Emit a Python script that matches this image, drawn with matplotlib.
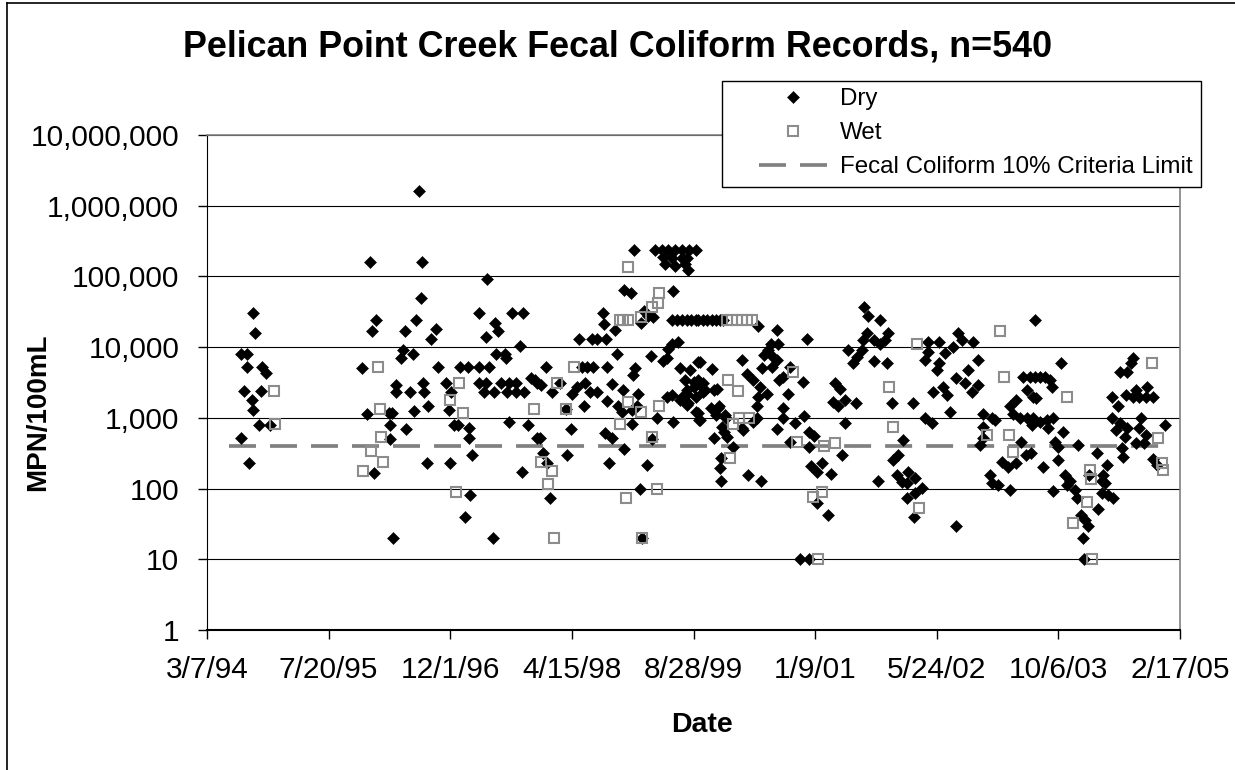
import matplotlib
matplotlib.use("Agg")
import matplotlib.pyplot as plt
from matplotlib.lines import Line2D
from matplotlib.patches import Rectangle
from matplotlib.ticker import NullLocator
import numpy as np

plt.rcParams['font.family'] = ['Liberation Sans', 'DejaVu Sans']

# Dry-weather samples: (date, MPN/100mL)
dry_samples = [
    ("1994-07-25", 8000), ("1994-07-25", 520), ("1994-08-05", 2400), ("1994-08-17", 8000),
    ("1994-08-20", 5200), ("1994-08-25", 230), ("1994-09-08", 1800), ("1994-09-12", 30000),
    ("1994-09-12", 1300), ("1994-09-20", 16000), ("1994-10-08", 800), ("1994-10-13", 2400),
    ("1994-10-21", 5200), ("1994-11-04", 4300), ("1994-11-19", 800),
    ("1995-12-04", 5000), ("1995-12-24", 1150), ("1996-01-05", 160000), ("1996-01-13", 17000),
    ("1996-01-21", 165), ("1996-01-29", 24000), ("1996-03-26", 1170), ("1996-03-30", 800),
    ("1996-03-30", 500), ("1996-04-07", 1170), ("1996-04-11", 20), ("1996-04-20", 2300),
    ("1996-04-24", 2900), ("1996-05-14", 7000), ("1996-05-22", 9000), ("1996-05-31", 17000),
    ("1996-06-04", 700), ("1996-06-20", 2300), ("1996-06-29", 8000), ("1996-07-07", 1250),
    ("1996-07-15", 24000), ("1996-07-24", 1600000), ("1996-08-01", 50000), ("1996-08-05", 160000),
    ("1996-08-13", 3100), ("1996-08-17", 2300), ("1996-08-26", 230), ("1996-08-30", 1450),
    ("1996-09-11", 13000), ("1996-10-04", 18000), ("1996-10-11", 5200), ("1996-11-14", 3100),
    ("1996-11-24", 1300), ("1996-12-01", 230), ("1996-12-05", 2300), ("1996-12-17", 800),
    ("1997-01-01", 800), ("1997-01-09", 5200), ("1997-02-01", 40), ("1997-02-10", 5200),
    ("1997-02-15", 730), ("1997-02-15", 520), ("1997-02-22", 82), ("1997-03-02", 300),
    ("1997-03-28", 30000), ("1997-03-28", 3100), ("1997-03-31", 5200), ("1997-04-17", 2300),
    ("1997-04-25", 14000), ("1997-04-29", 3100), ("1997-05-03", 92000), ("1997-05-11", 5200),
    ("1997-05-27", 20), ("1997-05-31", 2300), ("1997-06-02", 22000), ("1997-06-09", 8000),
    ("1997-06-17", 17000), ("1997-06-29", 3100), ("1997-07-13", 8000), ("1997-07-20", 7000),
    ("1997-07-24", 2300), ("1997-08-01", 3100), ("1997-08-01", 880), ("1997-08-11", 30000),
    ("1997-08-29", 3100), ("1997-08-29", 2300), ("1997-09-14", 10500), ("1997-09-22", 170),
    ("1997-09-26", 30000), ("1997-09-30", 2300), ("1997-10-18", 800), ("1997-10-30", 3700),
    ("1997-11-16", 3400), ("1997-11-24", 3100), ("1997-11-24", 520), ("1997-12-03", 520),
    ("1997-12-11", 2900), ("1997-12-19", 320), ("1997-12-29", 5200),
    ("1998-01-01", 230), ("1998-01-14", 74), ("1998-01-22", 2300), ("1998-02-24", 3100),
    ("1998-03-20", 1330), ("1998-03-28", 300), ("1998-04-13", 700), ("1998-04-17", 2200),
    ("1998-05-08", 2700), ("1998-05-15", 13000), ("1998-05-28", 5200), ("1998-06-02", 1450),
    ("1998-06-06", 3100), ("1998-06-18", 5200), ("1998-06-27", 2300), ("1998-07-08", 13000),
    ("1998-07-12", 5200), ("1998-07-26", 2300), ("1998-07-29", 13000), ("1998-08-19", 30000),
    ("1998-08-27", 21000), ("1998-08-31", 620), ("1998-09-01", 13000), ("1998-09-08", 5200),
    ("1998-09-08", 1750), ("1998-09-16", 230), ("1998-09-25", 3000), ("1998-09-29", 520),
    ("1998-10-10", 17500), ("1998-10-18", 8000), ("1998-10-22", 1450), ("1998-11-07", 1200),
    ("1998-11-11", 2500), ("1998-11-15", 64000), ("1998-11-15", 360), ("1998-12-14", 58000),
    ("1998-12-18", 1300), ("1998-12-18", 820), ("1998-12-22", 4000), ("1998-12-28", 240000),
    ("1998-12-30", 5000),
    ("1999-01-07", 1450), ("1999-01-11", 2200), ("1999-01-19", 99), ("1999-01-23", 22000),
    ("1999-01-27", 20), ("1999-02-05", 32000), ("1999-02-17", 215), ("1999-02-21", 28000),
    ("1999-03-05", 7500), ("1999-03-09", 500), ("1999-03-13", 27000), ("1999-03-21", 240000),
    ("1999-03-30", 1000), ("1999-04-20", 240000), ("1999-04-24", 190000), ("1999-04-24", 6300),
    ("1999-05-03", 150000), ("1999-05-11", 7000), ("1999-05-11", 2000), ("1999-05-15", 240000),
    ("1999-05-15", 9500), ("1999-06-01", 180000), ("1999-06-01", 11000), ("1999-06-01", 2100),
    ("1999-06-01", 24000), ("1999-06-05", 62000), ("1999-06-05", 880), ("1999-06-13", 240000),
    ("1999-06-13", 140000), ("1999-06-22", 24000), ("1999-06-26", 12000), ("1999-07-03", 5000),
    ("1999-07-03", 1800), ("1999-07-13", 240000), ("1999-07-13", 180000), ("1999-07-13", 24000),
    ("1999-07-13", 2000), ("1999-07-24", 3400), ("1999-07-25", 150000), ("1999-08-03", 180000),
    ("1999-08-03", 24000), ("1999-08-03", 2500), ("1999-08-03", 2200), ("1999-08-03", 1500),
    ("1999-08-07", 125000), ("1999-08-07", 1600), ("1999-08-11", 240000), ("1999-08-15", 4700),
    ("1999-08-19", 24000), ("1999-08-28", 2700), ("1999-08-28", 3200), ("1999-09-06", 240000),
    ("1999-09-06", 24000), ("1999-09-06", 2000), ("1999-09-06", 1200), ("1999-09-14", 1170),
    ("1999-09-17", 24000), ("1999-09-17", 6200), ("1999-09-17", 3400), ("1999-09-21", 920),
    ("1999-09-25", 2900), ("1999-09-25", 6200), ("1999-09-25", 930), ("1999-10-04", 3100),
    ("1999-10-08", 24000), ("1999-10-08", 2300), ("1999-10-16", 2500), ("1999-10-24", 24000),
    ("1999-11-06", 1400), ("1999-11-10", 24000), ("1999-11-10", 4900), ("1999-11-19", 2500),
    ("1999-11-19", 520), ("1999-11-27", 24000), ("1999-11-27", 1100), ("1999-12-01", 2600),
    ("1999-12-05", 1400), ("1999-12-09", 1450), ("1999-12-13", 24000), ("1999-12-13", 195),
    ("1999-12-17", 130), ("1999-12-21", 270), ("1999-12-25", 750), ("1999-12-29", 24000),
    ("1999-12-30", 630),
    ("2000-01-03", 1100), ("2000-01-08", 1000), ("2000-01-11", 540), ("2000-02-05", 390),
    ("2000-03-13", 720), ("2000-03-13", 6600), ("2000-03-17", 680), ("2000-04-03", 4200),
    ("2000-04-08", 155), ("2000-04-28", 3400), ("2000-04-28", 880), ("2000-05-14", 1470),
    ("2000-05-14", 1000), ("2000-05-19", 2000), ("2000-05-21", 20000), ("2000-05-27", 2700),
    ("2000-05-31", 130), ("2000-06-05", 5000), ("2000-06-13", 7700), ("2000-06-25", 2200),
    ("2000-07-01", 9000), ("2000-07-13", 11000), ("2000-07-16", 5200), ("2000-07-20", 7200),
    ("2000-08-04", 17500), ("2000-08-04", 6600), ("2000-08-07", 700), ("2000-08-11", 11000),
    ("2000-08-15", 3400), ("2000-08-28", 3800), ("2000-08-28", 1400), ("2000-08-28", 1000),
    ("2000-09-18", 2200), ("2000-09-26", 5200), ("2000-09-26", 460), ("2000-10-19", 850),
    ("2000-11-09", 10), ("2000-11-21", 3200), ("2000-11-25", 1050), ("2000-12-08", 13000),
    ("2000-12-13", 630), ("2000-12-13", 390), ("2000-12-13", 10), ("2000-12-21", 210),
    ("2001-01-04", 560), ("2001-01-16", 170), ("2001-01-16", 63), ("2001-02-06", 230),
    ("2001-03-03", 42), ("2001-03-15", 160), ("2001-03-23", 1700), ("2001-03-31", 3100),
    ("2001-04-12", 1450), ("2001-04-21", 2600), ("2001-04-29", 300), ("2001-05-12", 1800),
    ("2001-05-12", 850), ("2001-05-24", 9000), ("2001-06-14", 6000), ("2001-06-26", 1600),
    ("2001-07-01", 7300), ("2001-07-22", 9000), ("2001-07-26", 12500), ("2001-07-28", 37000),
    ("2001-08-12", 16000), ("2001-08-16", 28000), ("2001-09-10", 12500), ("2001-09-10", 6300),
    ("2001-09-23", 130), ("2001-10-01", 24000), ("2001-10-01", 11000), ("2001-10-22", 12500),
    ("2001-10-30", 6000), ("2001-11-03", 16000), ("2001-11-20", 1600), ("2001-11-24", 250),
    ("2001-12-10", 155), ("2001-12-14", 300), ("2001-12-31", 125),
    ("2002-01-04", 490), ("2002-01-21", 120), ("2002-01-21", 74), ("2002-01-25", 170),
    ("2002-02-15", 1600), ("2002-02-19", 40), ("2002-02-23", 140), ("2002-02-23", 87),
    ("2002-03-24", 102), ("2002-04-05", 6600), ("2002-04-05", 1000), ("2002-04-17", 12000),
    ("2002-04-17", 8500), ("2002-05-03", 850), ("2002-05-08", 2300), ("2002-05-25", 4700),
    ("2002-06-02", 12000), ("2002-06-02", 6000), ("2002-06-19", 2700), ("2002-06-27", 8300),
    ("2002-07-05", 2100), ("2002-07-17", 1200), ("2002-07-29", 10000), ("2002-08-11", 3700),
    ("2002-08-11", 30), ("2002-08-19", 16000), ("2002-09-04", 12500), ("2002-09-17", 3100),
    ("2002-09-29", 4700), ("2002-10-16", 2300), ("2002-10-20", 12000), ("2002-11-10", 6600),
    ("2002-11-10", 2900), ("2002-11-18", 410), ("2002-11-30", 1150), ("2002-11-30", 750),
    ("2002-11-30", 520), ("2002-12-28", 155),
    ("2003-01-05", 1000), ("2003-01-05", 120), ("2003-01-17", 930), ("2003-01-30", 112),
    ("2003-02-15", 240), ("2003-03-12", 200), ("2003-03-20", 95), ("2003-03-21", 1450),
    ("2003-04-02", 1150), ("2003-04-15", 1800), ("2003-04-15", 230), ("2003-05-02", 1000),
    ("2003-05-07", 460), ("2003-05-15", 3800), ("2003-05-24", 300), ("2003-05-28", 2500),
    ("2003-05-28", 1000), ("2003-06-12", 3800), ("2003-06-14", 320), ("2003-06-18", 800),
    ("2003-06-22", 2000), ("2003-06-22", 1000), ("2003-07-01", 24000), ("2003-07-01", 3800),
    ("2003-07-05", 1900), ("2003-07-21", 3800), ("2003-07-21", 880), ("2003-08-02", 200),
    ("2003-08-11", 3800), ("2003-08-19", 930), ("2003-08-23", 720), ("2003-09-01", 3400),
    ("2003-09-09", 2700), ("2003-09-13", 1000), ("2003-09-13", 92), ("2003-09-22", 460),
    ("2003-10-04", 390), ("2003-10-04", 250), ("2003-10-15", 6000), ("2003-10-23", 630),
    ("2003-11-01", 155), ("2003-11-09", 112), ("2003-11-22", 130), ("2003-12-13", 95),
    ("2003-12-21", 74), ("2003-12-25", 410),
    ("2004-01-06", 42), ("2004-01-14", 20), ("2004-01-18", 10), ("2004-01-22", 36),
    ("2004-02-03", 30), ("2004-02-07", 155), ("2004-03-11", 320), ("2004-03-15", 52),
    ("2004-04-01", 130), ("2004-04-01", 87), ("2004-04-05", 155), ("2004-04-13", 120),
    ("2004-04-21", 215), ("2004-04-25", 82), ("2004-05-12", 1000), ("2004-05-12", 2000),
    ("2004-05-16", 74), ("2004-05-28", 680), ("2004-06-06", 1450), ("2004-06-14", 4500),
    ("2004-06-14", 850), ("2004-06-22", 380), ("2004-06-26", 280), ("2004-07-04", 540),
    ("2004-07-12", 2100), ("2004-07-16", 4500), ("2004-07-16", 720), ("2004-08-01", 6000),
    ("2004-08-06", 7000), ("2004-08-06", 2000), ("2004-08-22", 2500), ("2004-08-22", 440),
    ("2004-09-03", 2000), ("2004-09-03", 720), ("2004-09-11", 1000), ("2004-09-24", 440),
    ("2004-10-02", 2000), ("2004-10-02", 570), ("2004-10-06", 2700), ("2004-10-27", 2000),
    ("2004-10-27", 260), ("2004-11-13", 215), ("2004-12-16", 780),
]

# Wet-weather samples: (date, MPN/100mL)
wet_samples = [
    ("1994-12-06", 2400), ("1994-12-13", 820),
    ("1995-12-08", 180), ("1996-01-09", 340), ("1996-02-10", 5200), ("1996-02-18", 1330),
    ("1996-02-22", 535), ("1996-03-01", 240),
    ("1996-12-01", 1800), ("1996-12-25", 88), ("1997-01-05", 3100), ("1997-01-21", 1170),
    ("1997-11-10", 1330), ("1997-12-10", 240), ("1998-01-05", 115), ("1998-01-22", 180),
    ("1998-01-30", 20), ("1998-02-12", 3100), ("1998-03-20", 1330), ("1998-04-25", 5200),
    ("1998-10-30", 24000), ("1998-10-30", 820), ("1998-11-11", 24000), ("1998-11-23", 74),
    ("1998-12-01", 24000), ("1998-12-01", 136000), ("1998-12-01", 1700),
    ("1999-01-23", 27000), ("1999-01-23", 1200), ("1999-01-27", 20), ("1999-03-09", 37000),
    ("1999-03-09", 535), ("1999-03-30", 100), ("1999-04-03", 42000), ("1999-04-07", 58000),
    ("1999-04-07", 1470),
    ("2000-01-11", 24000), ("2000-01-15", 3400), ("2000-01-24", 270), ("2000-02-01", 24000),
    ("2000-02-05", 820), ("2000-02-22", 24000), ("2000-02-26", 2400), ("2000-03-01", 1000),
    ("2000-03-13", 24000), ("2000-04-03", 24000), ("2000-04-12", 1000), ("2000-04-24", 24000),
    ("2000-10-11", 4500), ("2000-10-28", 460), ("2001-01-01", 76), ("2001-01-20", 10),
    ("2001-02-06", 88), ("2001-02-14", 400), ("2001-03-31", 440),
    ("2001-11-08", 2700), ("2001-11-24", 750), ("2002-03-03", 11000), ("2002-03-12", 53),
    ("2002-12-17", 570), ("2003-02-06", 17000), ("2003-02-23", 3800), ("2003-03-16", 570),
    ("2003-04-02", 330),
    ("2003-11-09", 2000), ("2003-12-05", 33), ("2004-01-30", 64), ("2004-02-11", 185),
    ("2004-02-19", 137), ("2004-02-23", 10),
    ("2004-10-23", 6000), ("2004-11-17", 520), ("2004-12-04", 230), ("2004-12-08", 185),
]

# Fecal coliform 10% criteria limit across the sampling period
criteria_dates = ["1994-06-05", "2004-12-04"]
criteria_mpn = [400, 400]

x_tick_dates = ["1994-03-07", "1995-07-20", "1996-12-01", "1998-04-15", "1999-08-28",
                "2001-01-09", "2002-05-24", "2003-10-06", "2005-02-17"]
x_tick_labels = ["3/7/94", "7/20/95", "12/1/96", "4/15/98", "8/28/99",
                 "1/9/01", "5/24/02", "10/6/03", "2/17/05"]
y_tick_values = [1, 10, 100, 1e3, 1e4, 1e5, 1e6, 1e7]
y_tick_labels = ["1", "10", "100", "1,000", "10,000", "100,000", "1,000,000", "10,000,000"]

dry_dates = np.array([d for d, _ in dry_samples], dtype="datetime64[D]")
dry_mpn = np.array([v for _, v in dry_samples], dtype=float)
wet_dates = np.array([d for d, _ in wet_samples], dtype="datetime64[D]")
wet_mpn = np.array([v for _, v in wet_samples], dtype=float)

W, H = 1235, 770
fig = plt.figure(figsize=(W / 100, H / 100), dpi=100)
fig.patch.set_facecolor("white")
ax = fig.add_axes([207 / W, 1 - 630 / H, (1180 - 207) / W, (630 - 135) / H])

ax.plot(np.array(criteria_dates, dtype="datetime64[D]"), criteria_mpn, color="#808080",
        lw=2.66, dashes=(7.3, 3.8), solid_capstyle="butt", zorder=2,
        label="Fecal Coliform 10% Criteria Limit")
ax.plot(dry_dates, dry_mpn, linestyle="none", marker="D", ms=5.9, mfc="black",
        mec="black", mew=0.4, zorder=3, label="Dry")
ax.plot(wet_dates, wet_mpn, linestyle="none", marker="s", ms=7, mfc="none",
        mec="#8c8c8c", mew=1.5, zorder=4, label="Wet")

ax.set_yscale("log")
ax.set_ylim(1, 1e7)
ax.set_xlim(np.datetime64("1994-03-07"), np.datetime64("2005-02-17"))
ax.set_yticks(y_tick_values)
ax.set_yticklabels(y_tick_labels)
ax.yaxis.set_minor_locator(NullLocator())
ax.set_xticks(np.array(x_tick_dates, dtype="datetime64[D]"))
ax.set_xticklabels(x_tick_labels)
ax.grid(axis="y", color="black", lw=0.8)
ax.set_axisbelow(True)
ax.tick_params(direction="out", length=6.5, width=1, labelsize=21.5, colors="black")
ax.tick_params(axis="y", pad=13.5)
ax.tick_params(axis="x", pad=12.5)

for side in ("top", "right"):
    ax.spines[side].set_color("#808080")
    ax.spines[side].set_linewidth(1.2)
ax.spines["left"].set_color("black")
ax.spines["bottom"].set_color("black")
ax.spines["bottom"].set_linewidth(1.5)

fig.text(0.5, 1 - 47 / H, "Pelican Point Creek Fecal Coliform Records, n=540",
         ha="center", va="center", fontsize=25.8, fontweight="bold")
fig.text(38 / W, 1 - 412 / H, "MPN/100mL", rotation=90, ha="center", va="center",
         fontsize=20, fontweight="bold")
fig.text(702 / W, 1 - 725 / H, "Date", ha="center", va="center",
         fontsize=20.5, fontweight="bold")

# outer chart frame
fig.add_artist(Line2D([7 / W, 7 / W], [0, 1 - 3 / H], transform=fig.transFigure,
                      color="black", lw=1.2))
fig.add_artist(Line2D([7 / W, 1], [1 - 3 / H, 1 - 3 / H], transform=fig.transFigure,
                      color="black", lw=1.2))

# legend box
fig.add_artist(Rectangle((722 / W, 1 - 187 / H), (1201 - 722) / W, (187 - 81) / H,
                         transform=fig.transFigure, facecolor="white", edgecolor="black",
                         lw=1.0, zorder=3))
handles, labels = ax.get_legend_handles_labels()
order = [labels.index("Dry"), labels.index("Wet"),
         labels.index("Fecal Coliform 10% Criteria Limit")]
leg = fig.legend([handles[i] for i in order], [labels[i] for i in order],
                 loc="upper left", bbox_to_anchor=(759 / W, 1 - 88 / H),
                 bbox_transform=fig.transFigure, frameon=False, fontsize=17.4,
                 handlelength=2.8, handletextpad=0.54, labelspacing=0.5,
                 borderpad=0, borderaxespad=0, numpoints=1)
leg.set_zorder(5)

fig.savefig("out.png", dpi=100)
